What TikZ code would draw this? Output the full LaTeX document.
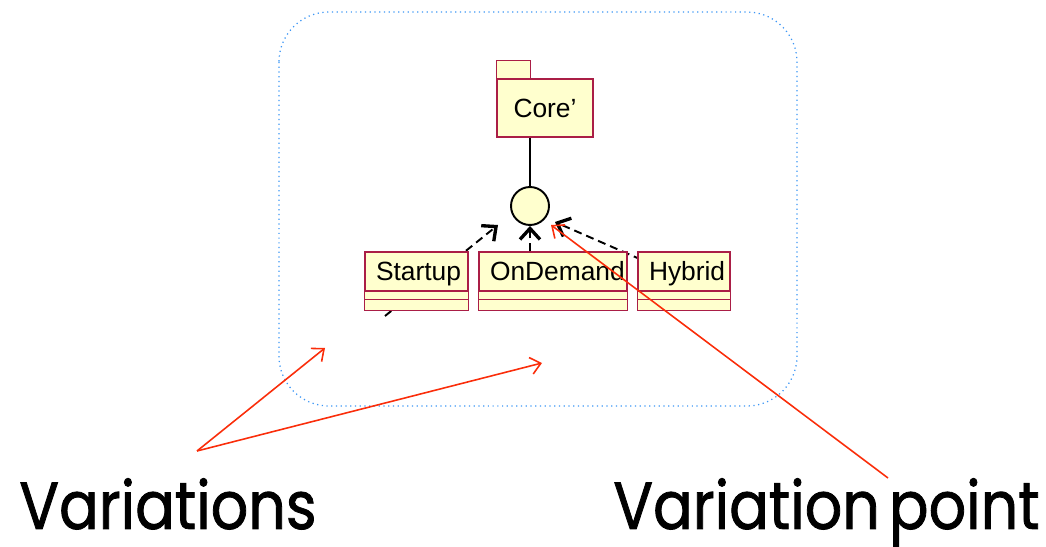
\documentclass[tikz,border=0pt]{standalone}
\usepackage{fontspec}
\setmainfont{Liberation Sans}
\newfontfamily\handfont[FakeStretch=0.88, FakeBold=1.2]{Poppins}
\usetikzlibrary{arrows.meta}

\definecolor{umlfill}{RGB}{255,255,206}
\definecolor{umlline}{RGB}{170,30,70}
\definecolor{boxblue}{RGB}{60,150,245}
\definecolor{notered}{RGB}{250,45,10}

\tikzset{
  classname/.style={draw=umlline, fill=umlfill, line width=0.85pt, minimum height=0.78cm,
    inner xsep=0.22cm, align=left, text height=0.38cm, text depth=0pt,
    font=\fontsize{15}{16}\selectfont},
  compart/.style={draw=umlline, fill=umlfill, line width=0.85pt},
  dep/.style={dash pattern=on 0.16cm off 0.1cm, line width=1.1pt,
    -{Straight Barb[length=0.22cm, width=0.4cm, line width=1.9pt]}},
  note/.style={notered, line width=0.9pt, -{Straight Barb[length=0.2cm, width=0.34cm]}},
  bigtext/.style={font=\handfont\fontsize{38}{40}\selectfont, anchor=base west, inner sep=0pt},
}

\begin{document}
\begin{tikzpicture}[x=0.02cm, y=-0.02cm]
  \useasboundingbox (0,0) rectangle (1046,547);

  % dotted region around the model
  \draw[boxblue, dotted, line width=0.7pt, rounded corners=1cm] (279,12) rectangle (797,406);

  % package with its tab
  \node (core) [draw=umlline, fill=umlfill, line width=0.85pt, minimum width=1.92cm,
    minimum height=1.16cm, font=\fontsize{15}{16}\selectfont] at (545,108) {Core’};
  \draw[compart] (core.north west) -- ++(0,-18) -- ++(34,0) -- ++(0,18);

  % interface
  \node (iface) [circle, draw, fill=umlfill, line width=1.1pt, minimum size=0.76cm, inner sep=0pt] at (530,206) {};
  \draw[line width=1.1pt] (core.south -| iface) -- (iface.north);

  % dependencies that run behind the classes
  \coordinate (s0) at (385,316);
  \coordinate (s1) at (498,225);
  \coordinate (h0) at (665,270);
  \coordinate (h1) at (555,222);
  \draw[dep] (s0) -- (s1);
  \draw[dep] (h0) -- (h1);

  % classes
  \node (startup) [classname, text width=1.62cm] at (416.5,271.5) {Startup};
  \node (ondemand) [classname, text width=2.52cm] at (553,271.5) {OnDemand};
  \node (hybrid) [classname, text width=1.40cm] at (684,271.5) {Hybrid};
  \foreach \c in {startup, ondemand, hybrid} {
    \draw[compart] (\c.south west) rectangle ([yshift=-0.16cm]\c.south east);
    \draw[compart] ([yshift=-0.16cm]\c.south west) rectangle ([yshift=-0.38cm]\c.south east);
  }
  \draw[dep] (iface.south |- ondemand.north) -- (iface.south);

  % notes
  \coordinate (vsrc) at (197,451);
  \coordinate (vtip1) at (325,348);
  \coordinate (vtip2) at (542,363);
  \coordinate (psrc) at (888,478);
  \coordinate (ptip) at (551,225);
  \draw[note] (vsrc) -- (vtip1);
  \draw[note] (vsrc) -- (vtip2);
  \draw[note] (psrc) -- (ptip);

  \node (variations) [bigtext] at (19,529) {Variations};
  \node (varpoint) [bigtext] at (613,529) {Variation\hspace{-0.1em} point};
\end{tikzpicture}
\end{document}
